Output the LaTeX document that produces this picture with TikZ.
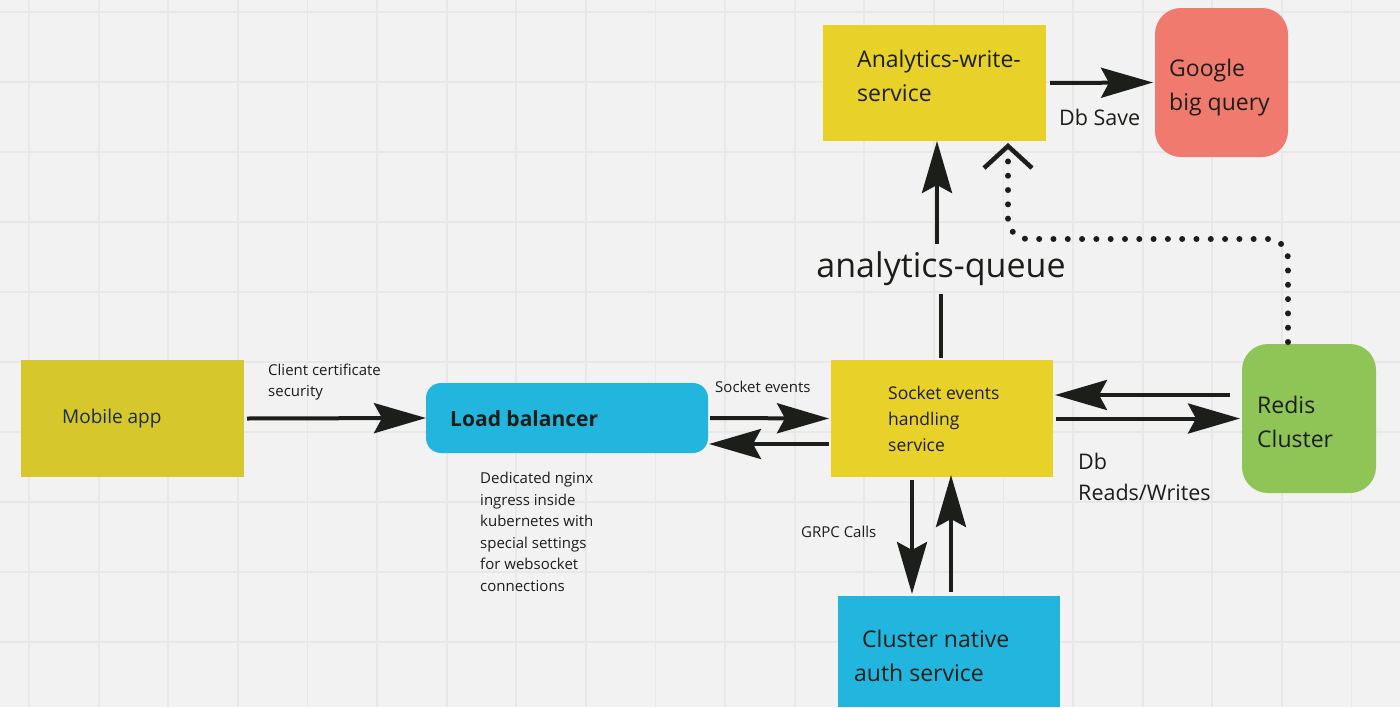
\documentclass[tikz,border=0pt]{standalone}
\usepackage{fontspec}
\setmainfont{Open Sans}
\usetikzlibrary{arrows.meta}
\definecolor{bg}{HTML}{F2F2F2}
\definecolor{gridc}{HTML}{E8E8E8}
\definecolor{ylw}{HTML}{E8D22A}
\definecolor{olive}{HTML}{D6C82C}
\definecolor{cyanb}{HTML}{22B5DD}
\definecolor{salmon}{HTML}{F07A6E}
\definecolor{greenb}{HTML}{8FC556}
\definecolor{ink}{HTML}{1C1E1A}
\definecolor{navyink}{HTML}{1D2B36}
\tikzset{
  box/.style={draw=none, inner sep=0pt, outer sep=0pt},
  rbox/.style={box, rounded corners=#1},
  txt/.style={inner sep=0pt, anchor=west, align=left, text=ink},
  small/.style={txt, font=\fontsize{15}{21.5}\selectfont},
  mid/.style={txt, font=\fontsize{17.5}{26}\selectfont},
  big/.style={txt, font=\fontsize{23}{34}\selectfont},
  arr/.style={draw=ink, line width=4pt, -{Stealth[length=52pt, width=30pt, inset=8pt]}},
  plain/.style={draw=ink, line width=4pt},
  dotline/.style={draw=ink, line width=6pt, line cap=round, dash pattern=on 0pt off 14.3pt,
    rounded corners=20pt, -{Straight Barb[length=22pt, width=48pt, line width=4.5pt, line cap=butt]}}
}
\begin{document}
\begin{tikzpicture}[x=1pt, y=-1pt]
\fill[bg] (0,0) rectangle (1400,707);
\useasboundingbox (0,0) rectangle (1400,707);
\foreach \i in {0,...,19} \draw[gridc, line width=1.8pt] ({29+69.6*\i},0) -- ({29+69.6*\i},707);
\foreach \j in {0,...,9} \draw[gridc, line width=1.8pt] (0,{12+70*\j}) -- (1400,{12+70*\j});

% boxes
\node[box, fill=olive, minimum width=223pt, minimum height=117pt] (mobile) at (132.5,418.5) {};
\node[rbox=15pt, fill=cyanb, minimum width=282pt, minimum height=70pt] (lb) at (567,418) {};
\node[box, fill=ylw, minimum width=222pt, minimum height=117pt] (socket) at (942,418.5) {};
\node[rbox=26pt, fill=greenb, minimum width=134pt, minimum height=149pt] (redis) at (1309,418.5) {};
\node[box, fill=ylw, minimum width=223pt, minimum height=116pt] (aws) at (934.5,83) {};
\node[rbox=26pt, fill=salmon, minimum width=133pt, minimum height=149pt] (google) at (1221.5,82.5) {};
\node[box, fill=cyanb, minimum width=222pt, minimum height=111pt] (auth) at (949,651.5) {};

% box texts
\node[txt, text=navyink, font=\fontsize{19}{26}\selectfont] (mobiletxt) at (62,419) {Mobile app};
\node[txt, font=\bfseries\fontsize{21}{28}\selectfont] (lbtxt) at (450,419) {Load balancer};
\node[mid] (sockettxt) at (888,419) {Socket events\\handling\\service};
\node[big] (awstxt) at (857,76) {Analytics-write-\\service};
\node[big] (googletxt) at (1169,88) {Google\\big query};
\node[big] (redistxt) at (1257,422) {Redis\\Cluster};
\node[big] (authtxt) at (854,656) {\hspace*{8pt}Cluster native\\auth service};

% labels
\node[small] (certlbl) at (268,382) {Client certificate\\security};
\node[small] (nginxlbl) at (480,532) {Dedicated nginx\\ingress inside\\kubernetes with\\special settings\\for websocket\\connections};
\node[small] (socklbl) at (715,387) {Socket events};
\node[small] (grpclbl) at (801,532) {GRPC Calls};
\node[txt, font=\fontsize{21.5}{31}\selectfont] (dbsavelbl) at (1059,117) {Db Save};
\node[txt, font=\fontsize{21.5}{31}\selectfont] (dbrwlbl) at (1078,477) {Db\\Reads/Writes};
\node[inner sep=0pt, minimum height=50pt, text=ink, font=\fontsize{34}{40}\selectfont] (queue) at (941,269) {analytics-queue};

% connectors
\draw[arr] ([xshift=3pt]mobile.east) -- (lb.west);
\draw[arr] ([xshift=2pt]lb.east) -- ([xshift=-2pt]socket.west);
\draw[arr] ([yshift=-25.5pt,xshift=-2pt]socket.west) -- ([yshift=-26pt,xshift=1pt]lb.east);
\draw[arr] ([xshift=-12pt,yshift=23.5pt]redis.west) -- ([xshift=2pt,yshift=23.5pt]socket.east);
\draw[arr] ([xshift=3pt]socket.east) -- ([xshift=-2pt]redis.west);
\draw[arr] ([xshift=4pt]aws.east) -- ([xshift=-2pt]google.west);
\draw[plain] ([xshift=-1pt,yshift=2pt]socket.north) -- (queue.south);
\draw[arr] ([xshift=-4pt]queue.north) -- ([xshift=2.5pt]aws.south);
\draw[arr] ([xshift=-30pt,yshift=-3pt]socket.south) -- ([xshift=-37pt,yshift=2pt]auth.north);
\draw[arr] ([xshift=2pt,yshift=4pt]auth.north) -- ([xshift=9pt,yshift=2pt]socket.south);
\draw[dotline] ([xshift=-21pt,yshift=2pt]redis.north) -- ++(0,-103) -| ([xshift=73.5pt,yshift=-2pt]aws.south);
\end{tikzpicture}
\end{document}
